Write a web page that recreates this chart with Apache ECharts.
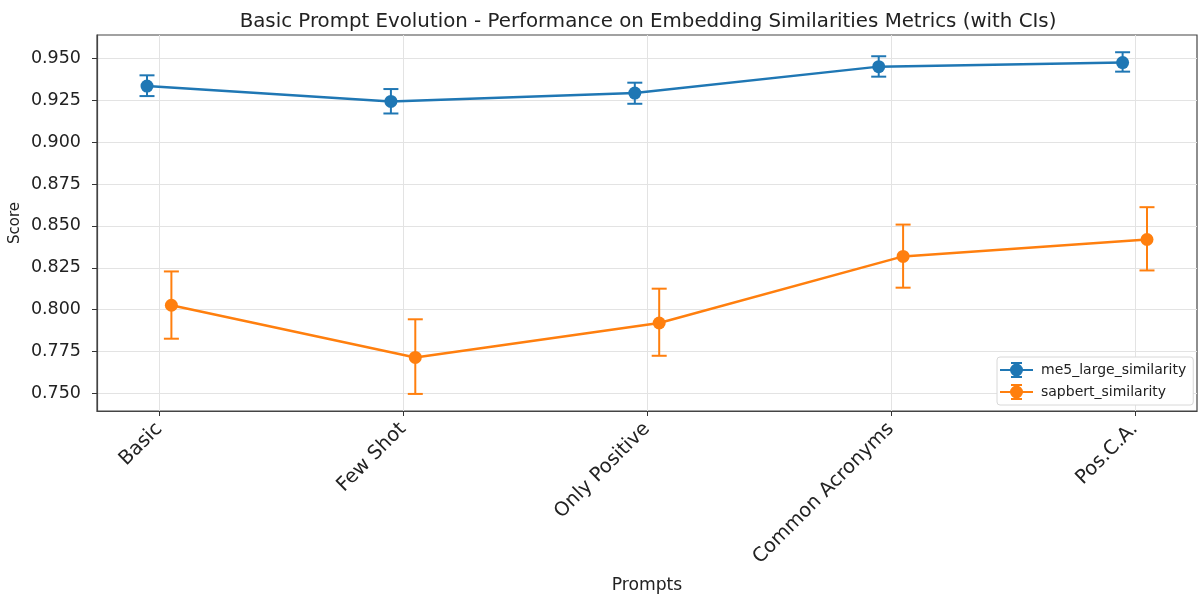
<!DOCTYPE html>
<html lang="en">

<head>
    <meta charset="UTF-8">
    <title>Basic Prompt Evolution</title>
    <script type="text/javascript" src="https://cdn.jsdelivr.net/npm/echarts@6.0.0/dist/echarts.min.js"></script>
    <style>
        html, body {
            margin: 0;
            padding: 0;
            background: #fff;
        }

        #main {
            width: 1198px;
            height: 595px;
        }
    </style>
</head>

<body>
    <div id="main"></div>

    <script type="text/javascript">
        // data
        var prompts = ['Basic', 'Few Shot', 'Only Positive', 'Common Acronyms', 'Pos.C.A.'];
        var seriesNames = ['me5_large_similarity', 'sapbert_similarity'];

        var me5Mean = [0.9336, 0.9244, 0.9294, 0.9452, 0.9476];
        var me5Low = [0.9276, 0.9172, 0.9230, 0.9392, 0.9422];
        var me5High = [0.9400, 0.9318, 0.9356, 0.9514, 0.9538];

        var sapMean = [0.8026, 0.7714, 0.7920, 0.8318, 0.8419];
        var sapLow = [0.7826, 0.7496, 0.7724, 0.8131, 0.8234];
        var sapHigh = [0.8228, 0.7942, 0.8125, 0.8508, 0.8612];

        var yTicks = [0.750, 0.775, 0.800, 0.825, 0.850, 0.875, 0.900, 0.925, 0.950];

        var colors = ['#1f77b4', '#ff7f0e'];
        var xShift = [-0.05, 0.05];   // dodge between the two series
        var font = 'DejaVu Sans';

        var legendIcon = 'path://M0,8 H33 V10 H0 Z M15.5,1 H17.5 V17 H15.5 Z M11,1 H22 V3 H11 Z M11,15 H22 V17 H11 Z M10,9 A6.5,6.5 0 1,1 23,9 A6.5,6.5 0 1,1 10,9 Z';

        function points(vals, shift) {
            var out = [];
            for (var i = 0; i < vals.length; i++) {
                out.push([i + shift, vals[i]]);
            }
            return out;
        }

        function bars(low, high, shift) {
            var out = [];
            for (var i = 0; i < low.length; i++) {
                out.push([i + shift, low[i], high[i]]);
            }
            return out;
        }

        function errRender(color) {
            return function (params, api) {
                var x = api.value(0);
                var a = api.coord([x, api.value(2)]);
                var b = api.coord([x, api.value(1)]);
                var w = 7.5;
                var st = { stroke: color, lineWidth: 2 };
                return {
                    type: 'group',
                    children: [
                        { type: 'line', shape: { x1: a[0], y1: a[1], x2: b[0], y2: b[1] }, style: st },
                        { type: 'line', shape: { x1: a[0] - w, y1: a[1], x2: a[0] + w, y2: a[1] }, style: st },
                        { type: 'line', shape: { x1: b[0] - w, y1: b[1], x2: b[0] + w, y2: b[1] }, style: st }
                    ]
                };
            };
        }

        var means = [me5Mean, sapMean];
        var lows = [me5Low, sapLow];
        var highs = [me5High, sapHigh];
        var series = [];
        for (var s = 0; s < 2; s++) {
            series.push({
                name: seriesNames[s],
                type: 'custom',
                renderItem: errRender(colors[s]),
                encode: { x: 0, y: [1, 2] },
                data: bars(lows[s], highs[s], xShift[s]),
                itemStyle: { color: colors[s] },
                silent: true,
                z: 2
            });
            series.push({
                name: seriesNames[s],
                type: 'line',
                data: points(means[s], xShift[s]),
                symbol: 'circle',
                symbolSize: 13,
                lineStyle: { color: colors[s], width: 2.5 },
                itemStyle: { color: colors[s] },
                z: 3
            });
        }

        var myChart = echarts.init(document.getElementById('main'));
        var option = {
            animation: false,
            backgroundColor: '#fff',
            textStyle: { fontFamily: font },
            title: {
                text: 'Basic Prompt Evolution - Performance on Embedding Similarities Metrics (with CIs)',
                left: 643,
                textAlign: 'center',
                top: 7,
                textStyle: { fontFamily: font, fontSize: 19.8, fontWeight: 'normal', color: '#222' }
            },
            legend: {
                data: seriesNames.map(function (n, i) {
                    return { name: n, icon: legendIcon, itemStyle: { color: colors[i] } };
                }),
                orient: 'vertical',
                left: 997,
                top: 357,
                itemWidth: 33,
                itemHeight: 16,
                itemGap: 6,
                padding: [5, 7, 5, 3],
                backgroundColor: '#fff',
                borderColor: '#d8d8d8',
                borderWidth: 1,
                borderRadius: 3,
                textStyle: { fontFamily: font, fontSize: 14, color: '#222', padding: [0, 0, 0, 3] }
            },
            grid: {
                left: 97,
                right: 1,
                top: 35,
                bottom: 184,
                outerBoundsMode: 'none',
                show: true,
                borderColor: '#444',
                borderWidth: 1.2
            },
            xAxis: {
                type: 'value',
                min: -0.255,
                max: 4.255,
                name: 'Prompts',
                nameLocation: 'middle',
                nameGap: 166,
                nameMoveOverlap: false,
                nameTextStyle: { fontFamily: font, fontSize: 17.2, color: '#222' },
                axisLine: { show: true, onZero: false, lineStyle: { color: '#444', width: 1.2 } },
                axisTick: { show: true, length: 5, customValues: [0, 1, 2, 3, 4], lineStyle: { color: '#333' } },
                axisLabel: {
                    customValues: [0, 1, 2, 3, 4],
                    rotate: 45,
                    margin: 15,
                    fontFamily: font,
                    fontSize: 19.5,
                    color: '#222',
                    formatter: function (v) { return prompts[Math.round(v)]; }
                },
                splitLine: { show: true, lineStyle: { color: '#e3e3e3', width: 1 } }
            },
            yAxis: {
                type: 'value',
                min: 0.7394,
                max: 0.9641,
                name: 'Score',
                nameLocation: 'middle',
                nameGap: 74,
                nameMoveOverlap: false,
                nameTextStyle: { fontFamily: font, fontSize: 15, color: '#222' },
                axisLine: { show: true, onZero: false, lineStyle: { color: '#444', width: 1.2 } },
                axisTick: { show: true, length: 5, customValues: yTicks, lineStyle: { color: '#333' } },
                axisLabel: {
                    customValues: yTicks,
                    margin: 16,
                    fontFamily: font,
                    fontSize: 17.5,
                    color: '#222',
                    formatter: function (v) { return v.toFixed(3); }
                },
                splitLine: { show: true, lineStyle: { color: '#e3e3e3', width: 1 } }
            },
            series: series
        };

        myChart.setOption(option);
        window.addEventListener('resize', function () {
            myChart.resize();
        });
    </script>
</body>

</html>
